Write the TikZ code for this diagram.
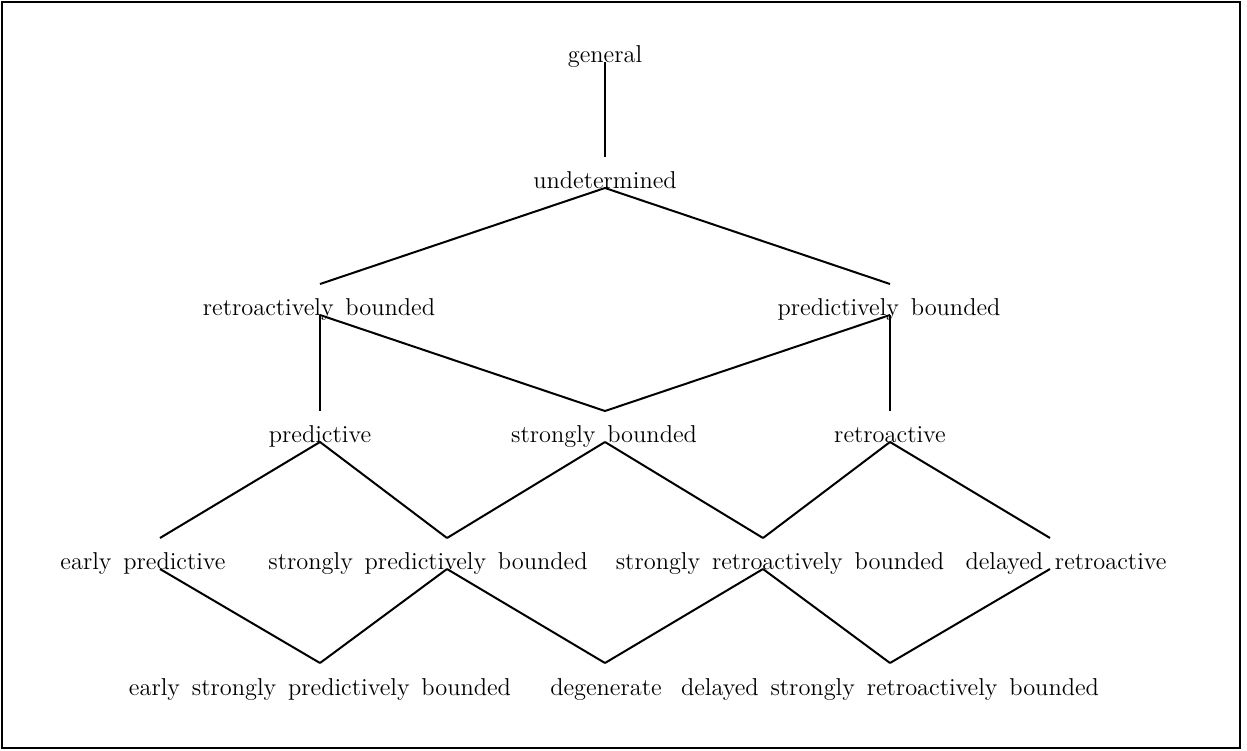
\documentclass[tikz,border=0pt]{standalone}
\usepackage{tikz}
\usetikzlibrary{calc}
\newcommand{\lblfont}{\fontsize{12.2}{14}\selectfont\spaceskip=5.9pt\relax}

\begin{document}
\begin{tikzpicture}[x=0.5pt, y=-0.5pt, line width=1pt,
  lbl/.style={anchor=base, inner sep=0pt, font=\lblfont}]

\useasboundingbox (0,0) rectangle (1247,750);
\draw (1.5,1.5) rectangle (1240,747.5);

% lattice points (at the baseline of each row)
\coordinate (gen) at (605,62);
\coordinate (und) at (605,188);
\coordinate (rb)  at (320,315);
\coordinate (pb)  at (890,315);
\coordinate (pre) at (320,442);
\coordinate (sb)  at (605,442);
\coordinate (ret) at (890,442);
\coordinate (ep)  at (160,569);
\coordinate (spb) at (447,569);
\coordinate (srb) at (763,569);
\coordinate (dr)  at (1050,569);
\coordinate (espb) at (320,694);
\coordinate (deg)  at (605,694);
\coordinate (dsrb) at (890,694);

% labels
\node[lbl] (gen-l) at (605,62) {general};
\node[lbl] (und-l) at (605,188) {undetermined};
\node[lbl] (rb-l)  at (319,315) {retroactively bounded};
\node[lbl] (pb-l)  at (889,315) {predictively bounded};
\node[lbl] (pre-l) at (320,442) {predictive};
\node[lbl] (sb-l)  at (604,442) {strongly bounded};
\node[lbl] (ret-l) at (890,442) {retroactive};
\node[lbl] (ep-l)  at (143,569) {early predictive};
\node[lbl] (spb-l) at (428,569) {strongly predictively bounded};
\node[lbl] (srb-l) at (780,569) {strongly retroactively bounded};
\node[lbl] (dr-l)  at (1066,569) {delayed retroactive};
\node[lbl] (espb-l) at (320,695) {early strongly predictively bounded};
\node[lbl] (deg-l)  at (606,695) {degenerate};
\node[lbl] (dsrb-l) at (890,695) {delayed strongly retroactively bounded};

% edges
\draw (gen) -- ($(und)+(0,-31)$);
\draw (und) -- ($(rb)+(0,-31)$);
\draw (und) -- ($(pb)+(0,-31)$);
\draw (rb) -- ($(pre)+(0,-31)$);
\draw (rb) -- ($(sb)+(0,-31)$);
\draw (pb) -- ($(sb)+(0,-31)$);
\draw (pb) -- ($(ret)+(0,-31)$);
\draw (pre) -- ($(ep)+(0,-31)$);
\draw (pre) -- ($(spb)+(0,-31)$);
\draw (sb) -- ($(spb)+(0,-31)$);
\draw (sb) -- ($(srb)+(0,-31)$);
\draw (ret) -- ($(srb)+(0,-31)$);
\draw (ret) -- ($(dr)+(0,-31)$);
\draw (ep) -- ($(espb)+(0,-31)$);
\draw (spb) -- ($(espb)+(0,-31)$);
\draw (spb) -- ($(deg)+(0,-31)$);
\draw (srb) -- ($(deg)+(0,-31)$);
\draw (srb) -- ($(dsrb)+(0,-31)$);
\draw (dr) -- ($(dsrb)+(0,-31)$);

\end{tikzpicture}
\end{document}
